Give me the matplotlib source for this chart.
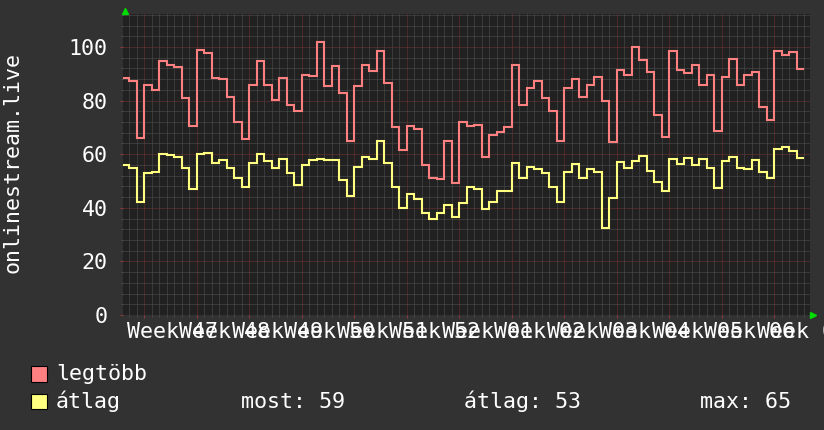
import numpy as np
import matplotlib.pyplot as plt
from matplotlib.patches import Rectangle
from matplotlib.ticker import MultipleLocator

# daily values, day 0 = start of week 47
first_day = -3
legtobb = [88.4, 87.5, 66.1, 85.7, 83.8, 94.6, 93.2, 92.4, 80.9, 70.7,
           98.8, 97.6, 88.3, 88.0, 81.2, 71.9, 65.8, 85.7, 94.6, 85.9,
           80.3, 88.3, 78.2, 76.0, 89.7, 89.0, 101.7, 85.3, 93.0, 82.9,
           64.8, 85.3, 93.4, 90.9, 98.6, 86.6, 70.0, 61.4, 70.7, 69.5,
           55.8, 51.3, 50.7, 64.8, 49.2, 71.9, 70.6, 71.0, 58.8, 67.2,
           68.1, 70.1, 93.4, 78.2, 84.7, 87.5, 80.9, 76.2, 65.1, 84.7,
           88.0, 81.2, 85.9, 88.7, 79.7, 64.6, 91.5, 89.4, 99.9, 95.3,
           90.5, 74.5, 66.6, 98.6, 91.3, 90.2, 93.4, 85.9, 89.4, 68.7,
           88.7, 95.4, 85.7, 89.4, 90.5, 77.7, 72.9, 98.4, 97.1, 98.0,
           91.9]
atlag = [56.0, 54.8, 42.0, 52.9, 53.5, 60.0, 59.8, 58.8, 54.8, 47.2,
         60.0, 60.4, 56.7, 58.0, 55.0, 51.3, 47.6, 56.9, 59.9, 57.3,
         55.0, 58.3, 52.9, 48.6, 56.0, 57.9, 58.3, 57.7, 57.7, 50.4,
         44.5, 55.4, 58.8, 58.3, 64.8, 56.9, 47.9, 39.9, 45.3, 43.2,
         38.0, 35.7, 38.0, 41.1, 36.7, 41.7, 47.8, 47.1, 39.5, 42.0,
         46.3, 46.3, 56.7, 51.3, 55.3, 54.5, 53.0, 47.6, 42.0, 53.5,
         56.3, 51.3, 54.5, 53.5, 32.6, 43.6, 57.2, 54.8, 57.5, 59.4,
         53.8, 49.8, 46.2, 58.3, 56.3, 58.5, 56.0, 58.3, 54.8, 47.4,
         57.5, 58.8, 55.0, 54.5, 57.9, 53.5, 51.3, 62.0, 62.8, 61.3,
         58.5]
weeks = ['47', '48', '49', '50', '51', '52', '01', '02', '03', '04', '05', '06', '07']
stats = [('most:', '59'), ('átlag:', '53'), ('max:', '65')]

bg = '#323232'
canvas = '#212121'
red = '#ff8080'
yellow = '#ffff80'
W, H = 824, 430
mono = 'DejaVu Sans Mono'
fs = 15.6

fig = plt.figure(figsize=(W / 100, H / 100), dpi=100, facecolor=bg)
ax = fig.add_axes([123.5 / W, (H - 315) / H, 686.5 / W, 301.5 / H], facecolor=canvas)

edges = np.arange(first_day, first_day + len(legtobb) + 1)
ax.stairs(legtobb, edges, baseline=None, color=red, lw=1.5, zorder=3)
ax.stairs(atlag, edges, baseline=None, color=yellow, lw=1.5, zorder=3)

ax.set_xlim(-2.77, 88.76)
ax.set_ylim(0, 112.5)

ax.xaxis.set_major_locator(MultipleLocator(7))
ax.xaxis.set_minor_locator(MultipleLocator(1))
ax.yaxis.set_major_locator(MultipleLocator(20))
ax.yaxis.set_minor_locator(MultipleLocator(4))
ax.set_axisbelow(True)
ax.grid(which='minor', color='#535353', lw=0.72, ls=(0, (1, 1)))
ax.grid(which='major', color='#7a3434', lw=0.72, ls=(0, (1, 1)))
for s in ax.spines.values():
    s.set_visible(False)

ax.tick_params(axis='x', which='both', labelbottom=False, direction='out')
ax.tick_params(axis='x', which='major', length=2.5, color='#8a3a3a')
ax.tick_params(axis='x', which='minor', length=1.5, color='#535353')
ax.tick_params(axis='y', which='major', length=2.5, color='#8a3a3a', pad=9,
               labelcolor='white', labelsize=fs)
ax.tick_params(axis='y', which='minor', length=1.5, color='#535353')
for lab in ax.get_yticklabels():
    lab.set_family(mono)

trans = ax.get_xaxis_transform()
for i, wk in enumerate(weeks):
    ax.text(-2.35 + 7 * i, -23 / 301.5, 'Week ' + wk, transform=trans,
            ha='left', va='baseline', color='white', family=mono,
            fontsize=fs, clip_on=False)

fig.text(13 / W, 1 - 163 / H, 'onlinestream.live', rotation=90, ha='center',
         va='center', color='white', family=mono, fontsize=fs)

# axis arrows
fig.lines.append(plt.Line2D([125 / W], [1 - 10.5 / H], marker='^', ms=4.5,
                            color='#00dd00', transform=fig.transFigure))
fig.lines.append(plt.Line2D([813 / W], [1 - 315 / H], marker='>', ms=4.5,
                            color='#00dd00', transform=fig.transFigure))

# legend
for y0, col in [(366, red), (393.5, yellow)]:
    fig.patches.append(Rectangle((31.5 / W, 1 - (y0 + 15.5) / H), 15.8 / W, 15.5 / H,
                                 facecolor=col, edgecolor='black', lw=0.8,
                                 transform=fig.transFigure))
fig.text(56 / W, 1 - 380 / H, 'legtöbb', color='white', family=mono,
         fontsize=fs, va='baseline')
fig.text(56 / W, 1 - 408.5 / H, 'átlag', color='white', family=mono,
         fontsize=fs, va='baseline')
for x0, (name, val) in zip([241, 464, 700], stats):
    fig.text(x0 / W, 1 - 408.5 / H, name + ' ' + val, color='white',
             family=mono, fontsize=fs, va='baseline')

fig.savefig('out.png', dpi=100, facecolor=bg)
